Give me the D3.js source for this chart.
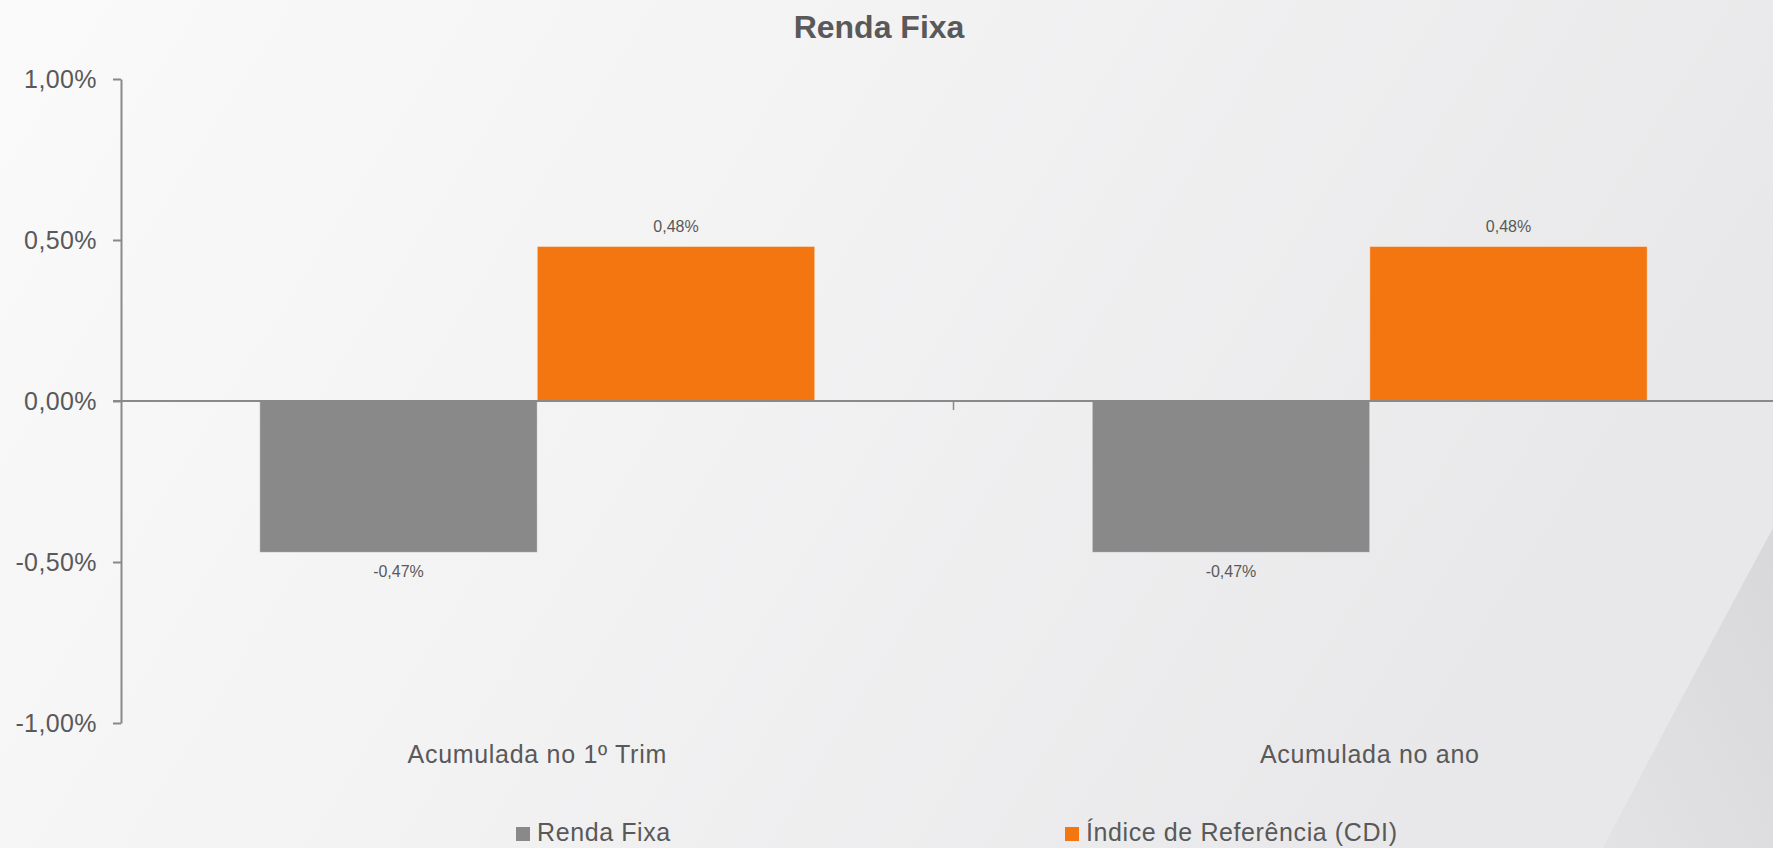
<!DOCTYPE html>
<html>
<head>
<meta charset="utf-8">
<script src="https://cdn.jsdelivr.net/npm/d3@7"></script>
<style>
  html, body { margin: 0; padding: 0; overflow: hidden; }
  svg { display: block; font-family: "Liberation Sans", Arial, sans-serif; }
</style>
</head>
<body>
<svg id="chart"></svg>
<script>
const categories = ["Acumulada no 1º Trim", "Acumulada no ano"];
const seriesNames = ["Renda Fixa", "Índice de Referência (CDI)"];
const rendaFixa = [-0.0047, -0.0047];
const cdi = [0.0048, 0.0048];
const yTicks = [-0.01, -0.005, 0, 0.005, 0.01];
const title = "Renda Fixa";

const width = 1773;
const height = 848;
const colors = ["#898989", "#f37610"];
const textColor = "#595959";
const axisColor = "#898989";

const svg = d3.select("#chart")
  .attr("width", width)
  .attr("height", height);

// fundo em degrade, com a faixa diagonal no canto inferior direito
const defs = svg.append("defs");
const bg = defs.append("linearGradient").attr("id", "bg")
  .attr("x1", "0").attr("y1", "0").attr("x2", "1").attr("y2", "0.3");
bg.append("stop").attr("offset", "0").attr("stop-color", "#fafafb");
bg.append("stop").attr("offset", "0.5").attr("stop-color", "#f2f2f3");
bg.append("stop").attr("offset", "1").attr("stop-color", "#e8e8ea");

const corner = defs.append("linearGradient").attr("id", "corner")
  .attr("x1", "0").attr("y1", "1").attr("x2", "1").attr("y2", "0");
corner.append("stop").attr("offset", "0").attr("stop-color", "#e3e3e5");
corner.append("stop").attr("offset", "1").attr("stop-color", "#d8d8da");

svg.append("rect").attr("width", width).attr("height", height).attr("fill", "url(#bg)");
svg.append("path")
  .attr("d", `M1603,${height} Q1680,700 ${width},528 L${width},${height} Z`)
  .attr("fill", "url(#corner)");

const fmt = d3.formatLocale({ decimal: ",", thousands: ".", grouping: [3], currency: ["R$", ""], minus: "-" }).format(".2%");

const data = categories.map((c, i) => ({
  category: c,
  values: [rendaFixa[i], cdi[i]]
}));

const x0 = d3.scaleBand()
  .domain(categories)
  .range([121, 1786])
  .padding(0);

const bw = x0.bandwidth();
const x1 = d3.scaleBand()
  .domain(seriesNames)
  .range([bw / 6, bw * 5 / 6])
  .padding(0);

const y = d3.scaleLinear()
  .domain([-0.01, 0.01])
  .range([723, 79]);

// eixo y
const yAxis = d3.axisLeft(y)
  .tickValues(yTicks)
  .tickFormat(fmt)
  .tickSize(8)
  .tickPadding(16)
  .tickSizeOuter(0);

const gy = svg.append("g")
  .attr("transform", "translate(121,0)")
  .call(yAxis);
gy.select(".domain").attr("stroke", axisColor).attr("stroke-width", 2);
gy.selectAll(".tick line").attr("stroke", axisColor).attr("stroke-width", 2);
gy.selectAll(".tick text")
  .attr("fill", textColor)
  .style("font-size", "25px")
  .style("letter-spacing", "0.4px");

// barras
const groups = svg.selectAll(".group")
  .data(data)
  .enter()
  .append("g")
  .attr("class", "group")
  .attr("transform", d => `translate(${x0(d.category)},0)`);

groups.selectAll("rect")
  .data(d => d.values.map((v, i) => ({ name: seriesNames[i], value: v, idx: i })))
  .enter()
  .append("rect")
  .attr("x", d => x1(d.name))
  .attr("width", x1.bandwidth())
  .attr("y", d => y(Math.max(0, d.value)))
  .attr("height", d => Math.abs(y(d.value) - y(0)))
  .attr("fill", d => colors[d.idx])
  .attr("stroke", "rgba(255,255,255,0.45)")
  .attr("stroke-width", 1);

groups.selectAll(".label")
  .data(d => d.values.map((v, i) => ({ name: seriesNames[i], value: v })))
  .enter()
  .append("text")
  .attr("class", "label")
  .attr("x", d => x1(d.name) + x1.bandwidth() / 2)
  .attr("y", d => d.value >= 0 ? y(d.value) - 14 : y(d.value) + 25)
  .attr("text-anchor", "middle")
  .attr("fill", textColor)
  .style("font-size", "16px")
  .text(d => fmt(d.value));

// linha do zero e marcas entre categorias
svg.append("line")
  .attr("x1", 113).attr("x2", width)
  .attr("y1", y(0)).attr("y2", y(0))
  .attr("stroke", axisColor)
  .attr("stroke-width", 2);

svg.selectAll(".sep")
  .data(categories.slice(1))
  .enter()
  .append("line")
  .attr("x1", d => x0(d)).attr("x2", d => x0(d))
  .attr("y1", y(0)).attr("y2", y(0) + 9)
  .attr("stroke", axisColor)
  .attr("stroke-width", 1.5);

// rotulos das categorias
svg.selectAll(".cat")
  .data(categories)
  .enter()
  .append("text")
  .attr("x", d => x0(d) + bw / 2)
  .attr("y", 763)
  .attr("text-anchor", "middle")
  .attr("fill", textColor)
  .style("font-size", "25px")
  .style("letter-spacing", "0.7px")
  .text(d => d);

// titulo
svg.append("text")
  .attr("x", 879)
  .attr("y", 38)
  .attr("text-anchor", "middle")
  .attr("fill", textColor)
  .style("font-size", "32px")
  .style("font-weight", "bold")
  .text(title);

// legenda
const legendX = d3.scalePoint().domain(seriesNames).range([516, 1065]);
const legend = svg.selectAll(".legend")
  .data(seriesNames)
  .enter()
  .append("g")
  .attr("transform", d => `translate(${legendX(d)},0)`);

legend.append("rect")
  .attr("x", 0).attr("y", 827)
  .attr("width", 14).attr("height", 14)
  .attr("fill", (d, i) => colors[i]);

legend.append("text")
  .attr("x", 21).attr("y", 841)
  .attr("fill", textColor)
  .style("font-size", "25px")
  .style("letter-spacing", "0.6px")
  .text(d => d);
</script>
</body>
</html>
